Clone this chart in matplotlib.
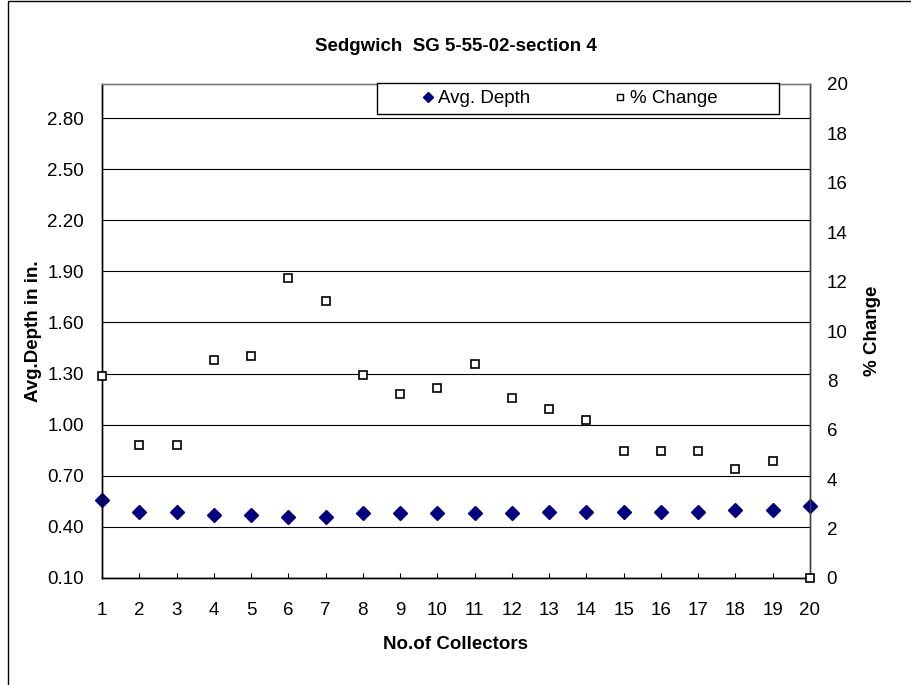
"""Sedgwich SG 5-55-02 section 4: average depth and percent change per collector."""

import matplotlib

matplotlib.use("Agg")
import matplotlib.pyplot as plt
from matplotlib.lines import Line2D
from matplotlib.patches import Rectangle
from matplotlib.ticker import FormatStrFormatter

plt.rcParams["font.family"] = ["Liberation Sans", "DejaVu Sans"]

collectors = list(range(1, 21))
avg_depth = [0.56, 0.49, 0.49, 0.47, 0.47, 0.46, 0.46, 0.48, 0.48, 0.48,
             0.48, 0.48, 0.49, 0.49, 0.49, 0.49, 0.49, 0.50, 0.50, 0.52]
pct_change = [8.16, 5.39, 5.39, 8.81, 9.00, 12.15, 11.22, 8.22, 7.43, 7.69,
              8.67, 7.30, 6.83, 6.38, 5.14, 5.14, 5.14, 4.43, 4.75, 0.0]
depth_ticks = [0.10, 0.40, 0.70, 1.00, 1.30, 1.60, 1.90, 2.20, 2.50, 2.80]
change_ticks = list(range(0, 21, 2))

FS = 13.5
navy = "#000080"

fig = plt.figure(figsize=(9.12, 6.85), dpi=100)
ax = fig.add_axes([102 / 912, 1 - 578 / 685, 708 / 912, 494 / 685])
ax2 = ax.twinx()

# outer chart border (left and top edges visible)
fig.patches.append(Rectangle((8 / 912, -0.05), 1.2, 1 - 1 / 685 + 0.05,
                             transform=fig.transFigure, fill=False,
                             edgecolor="black", linewidth=1.0, zorder=0))

ax.plot(collectors, avg_depth, linestyle="none", marker="D", markersize=7,
        color=navy, clip_on=False, zorder=3)
ax2.plot(collectors, pct_change, linestyle="none", marker="s", markersize=5.8,
         markerfacecolor="white", markeredgecolor="black", markeredgewidth=1.2,
         clip_on=False, zorder=3)

ax.set_xlim(1, 20)
ax.set_ylim(0.1, 3.0)
ax2.set_ylim(0, 20)
ax.set_xticks(collectors)
ax.set_yticks(depth_ticks)
ax.yaxis.set_major_formatter(FormatStrFormatter("%.2f"))
ax2.set_yticks(change_ticks)

ax.grid(axis="y", color="black", linewidth=0.8)
ax.set_axisbelow(True)

ax.tick_params(axis="x", direction="in", length=3.5, width=0.8,
               labelsize=FS, pad=17.5, top=False)
ax.tick_params(axis="y", length=0, labelsize=FS, pad=13)
ax2.tick_params(axis="y", length=0, labelsize=FS, pad=12)

for a in (ax, ax2):
    a.spines["left"].set_color("black")
    a.spines["bottom"].set_color("black")
    a.spines["top"].set_color("#808080")
    a.spines["right"].set_color("#404040")
    for s in a.spines.values():
        s.set_linewidth(1.0)

ax.set_xlabel("No.of Collectors", fontsize=FS, fontweight="bold", labelpad=12)
ax.set_ylabel("Avg.Depth in in.", fontsize=FS, fontweight="bold", labelpad=4)
ax2.set_ylabel("% Change", fontsize=FS, fontweight="bold", labelpad=12)
ax.set_title("Sedgwich  SG 5-55-02-section 4", fontsize=13.5, fontweight="bold",
             pad=24)

# legend box
fig.patches.append(Rectangle((377 / 912, 1 - 114 / 685), 402 / 912, 31 / 685,
                             transform=fig.transFigure, facecolor="white",
                             edgecolor="black", linewidth=1.0, zorder=4))
handles = [
    Line2D([], [], linestyle="none", marker="D", markersize=5, color=navy),
    Line2D([], [], linestyle="none", marker="s", markersize=5,
           markerfacecolor="white", markeredgecolor="black", markeredgewidth=1.0),
]
fig.legend(handles, ["Avg. Depth", "% Change"], ncol=2, loc="center left",
           bbox_to_anchor=(421 / 912, 1 - 98.5 / 685), frameon=False,
           fontsize=FS, handlelength=0.8, handletextpad=0.1, columnspacing=4.4,
           borderpad=0, borderaxespad=0)

fig.savefig("out.png", dpi=100)
